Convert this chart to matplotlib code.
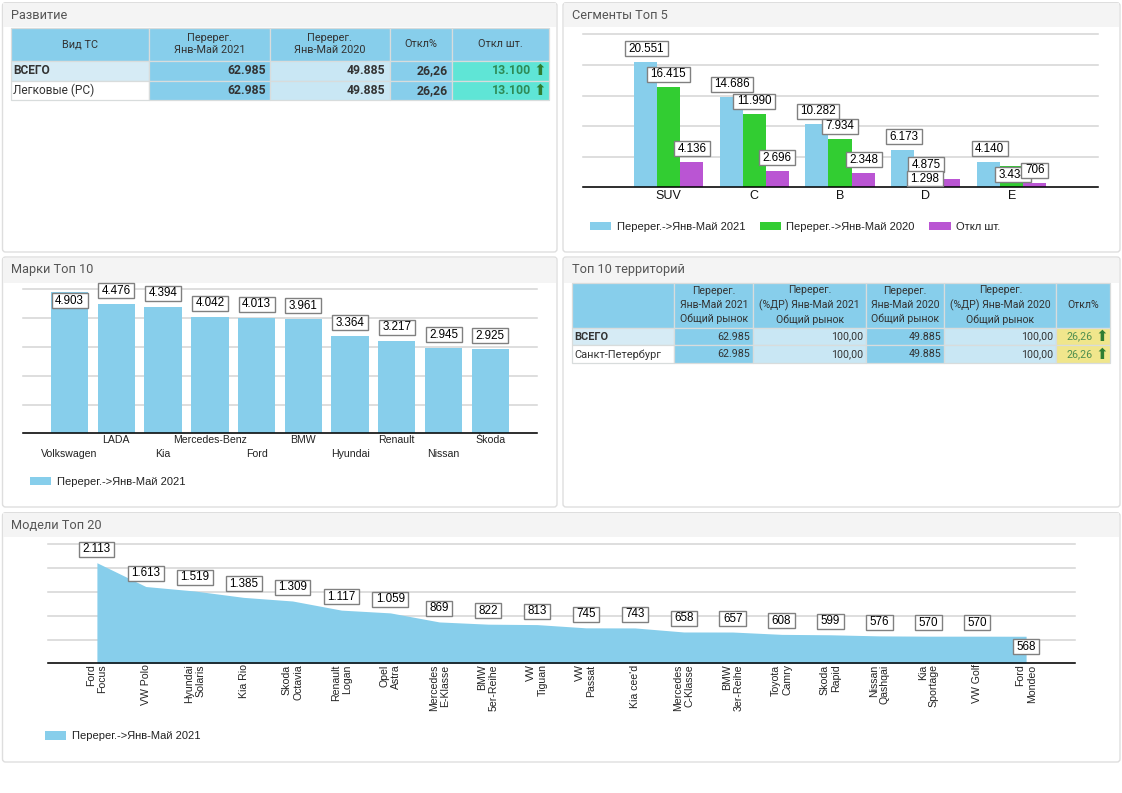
import matplotlib

matplotlib.use("Agg")
import matplotlib.pyplot as plt
from matplotlib.patches import FancyBboxPatch, Rectangle
from matplotlib.path import Path

W, H = 1122, 793
SKY = "#87ceeb"
LIME = "#32cd32"
ORCHID = "#ba55d3"
PALE = "#c9e7f4"
PALE_TOTAL = "#d6ebf5"
TURQUOISE = "#5fe5d6"
KHAKI = "#f0e68c"
GRID = "#d4d4d4"
LEGEND_2021 = "Перерег.->Янв-Май 2021"
LEGEND_2020 = "Перерег.->Янв-Май 2020"
LEGEND_DIFF = "Откл шт."

# development table
dev_columns = ["Вид ТС", "Перерег.\nЯнв-Май 2021", "Перерег.\nЯнв-Май 2020", "Откл%", "Откл шт."]
dev_rows = ["ВСЕГО", "Легковые (PC)"]
dev_2021 = [62985, 62985]
dev_2020 = [49885, 49885]
dev_pct = ["26,26", "26,26"]
dev_diff = [13100, 13100]

# segments
segments = ["SUV", "C", "B", "D", "E"]
seg_2021 = [20551, 14686, 10282, 6173, 4140]
seg_2020 = [16415, 11990, 7934, 4875, 3434]
seg_diff = [4136, 2696, 2348, 1298, 706]

# brands
brands = ["Volkswagen", "LADA", "Kia", "Mercedes-Benz", "Ford", "BMW", "Hyundai", "Renault", "Nissan", "Škoda"]
brand_values = [4903, 4476, 4394, 4042, 4013, 3961, 3364, 3217, 2945, 2925]

# territories table
terr_columns = [
    "",
    "Перерег.\nЯнв-Май 2021\nОбщий рынок",
    "Перерег.\n(%ДР) Янв-Май 2021\nОбщий рынок",
    "Перерег.\nЯнв-Май 2020\nОбщий рынок",
    "Перерег.\n(%ДР) Янв-Май 2020\nОбщий рынок",
    "Откл%",
]
terr_rows = ["ВСЕГО", "Санкт-Петербург"]
terr_2021 = [62985, 62985]
terr_share_2021 = ["100,00", "100,00"]
terr_2020 = [49885, 49885]
terr_share_2020 = ["100,00", "100,00"]
terr_pct = ["26,26", "26,26"]

# models
models = [
    "Ford\nFocus", "VW Polo", "Hyundai\nSolaris", "Kia Rio", "Skoda\nOctavia",
    "Renault\nLogan", "Opel\nAstra", "Mercedes\nE-Klasse", "BMW\n5er-Reihe", "VW\nTiguan",
    "VW\nPassat", "Kia cee'd", "Mercedes\nC-Klasse", "BMW\n3er-Reihe", "Toyota\nCamry",
    "Skoda\nRapid", "Nissan\nQashqai", "Kia\nSportage", "VW Golf", "Ford\nMondeo",
]
model_values = [2113, 1613, 1519, 1385, 1309, 1117, 1059, 869, 822, 813,
                745, 743, 658, 657, 608, 599, 576, 570, 570, 568]

plt.rcParams["font.family"] = ["Liberation Sans", "DejaVu Sans"]
ROBOTO = ["Roboto", "DejaVu Sans"]

fig = plt.figure(figsize=(W / 100, H / 100), dpi=100, facecolor="white")
bg = fig.add_axes([0, 0, 1, 1])
bg.set_xlim(0, W)
bg.set_ylim(H, 0)
bg.axis("off")


def fmt(value):
    return f"{value:,}".replace(",", ".")


def label_box(x0, y0, width, height, mutation_size):
    pad_x, pad_y = 3.5, 1.5
    left, right = x0 - pad_x, x0 + width + pad_x
    low, high = y0 - pad_y, y0 + height + pad_y
    return Path([(left, low), (right, low), (right, high), (left, high), (left, low)], closed=True)


def panel(left, top, right, bottom, header_bottom, title, title_x):
    bg.add_patch(FancyBboxPatch((left, top), right - left, bottom - top, boxstyle="round,pad=0,rounding_size=3",
                                fc="white", ec="#dedede", lw=1))
    bg.add_patch(Rectangle((left + 0.7, top + 0.7), right - left - 1.4, header_bottom - top, fc="#f4f4f4", ec="none"))
    bg.text(title_x, (top + header_bottom) / 2 + 0.5, title, family=ROBOTO, fontsize=9.2, color="#555555",
            va="center", ha="left")


def cell(left, top, right, bottom, color):
    bg.add_patch(Rectangle((left, top), right - left, bottom - top, fc=color, ec="#d8dcdc", lw=0.9))


def px_axes(left, top, right, bottom, xmax, ymax, ystep):
    ax = fig.add_axes([left / W, 1 - bottom / H, (right - left) / W, (bottom - top) / H])
    ax.patch.set_alpha(0)
    ax.set_xlim(0, xmax)
    ax.set_ylim(0, ymax)
    ax.set_yticks(range(0, ymax + 1, ystep))
    ax.tick_params(axis="y", length=0, labelleft=False)
    ax.tick_params(axis="x", length=0)
    ax.grid(axis="y", color=GRID, lw=1.1)
    ax.set_axisbelow(True)
    for line in ax.get_ygridlines():
        line.set_clip_on(False)
    for side in ("top", "left", "right"):
        ax.spines[side].set_visible(False)
    ax.spines["bottom"].set_linewidth(1.1)
    ax.spines["bottom"].set_color("black")
    return ax


def value_label(ax, x, y, value, dx=0, dy=13):
    # center_baseline sits about 2px low, hence the lift
    ax.annotate(fmt(value), xy=(x, y), xytext=(dx, dy + 2), textcoords="offset pixels", ha="center",
                va="center_baseline", fontsize=8.4, color="black", zorder=5, annotation_clip=False,
                bbox=dict(boxstyle=label_box, fc="white", ec="#808080", lw=1))


def legend(ax, x, y, ncol=1):
    ax.legend(loc="upper left", bbox_to_anchor=(x, y), bbox_transform=bg.transData, ncol=ncol, frameon=False,
              fontsize=8, handlelength=1.93, handleheight=0.8, handletextpad=0.48, columnspacing=1.3,
              borderpad=0, borderaxespad=0, labelcolor="#222222")


def draw_arrow(x, y, color="#2e7d32"):
    bg.text(x, y, "⬆", family=["DejaVu Sans"], fontsize=11, color=color, ha="center", va="center")


# panels
panel(2.5, 2.7, 557, 252, 26.7, "Развитие", 11.5)
panel(563, 2.7, 1120, 252, 26.7, "Сегменты Топ 5", 572)
panel(2.5, 257, 557, 507, 282, "Марки Топ 10", 11.5)
panel(563, 257, 1120, 507, 282, "Топ 10 территорий", 572)
panel(2.5, 512.7, 1120, 762, 536.7, "Модели Топ 20", 11.5)

# development table
dev_x = [10.7, 149.3, 269.6, 389.6, 451.8, 549.3]
dev_y = [27.7, 60.6, 80.5, 100.3]
for i, name in enumerate(dev_columns):
    cell(dev_x[i], dev_y[0], dev_x[i + 1], dev_y[1], SKY)
    bg.text((dev_x[i] + dev_x[i + 1]) / 2, (dev_y[0] + dev_y[1]) / 2, name, family=ROBOTO, fontsize=7.8,
            color="#333333", ha="center", va="center", linespacing=1.3)
for r, name in enumerate(dev_rows):
    top, bottom = dev_y[r + 1], dev_y[r + 2]
    mid = (top + bottom) / 2 + 0.3
    for i, color in enumerate([PALE_TOTAL if r == 0 else "white", SKY, PALE, SKY, TURQUOISE]):
        cell(dev_x[i], top, dev_x[i + 1], bottom, color)
    bg.text(13, mid, name, family=ROBOTO, fontsize=8.6, color="#333333", va="center",
            fontweight="bold" if r == 0 else "normal")
    texts = [fmt(dev_2021[r]), fmt(dev_2020[r]), dev_pct[r]]
    for i, text in enumerate(texts):
        bg.text(dev_x[i + 2] - 4, mid, text, family=ROBOTO, fontsize=8.8, fontweight="bold", color="#333333",
                ha="right", va="center")
    bg.text(531, mid, fmt(dev_diff[r]), family=ROBOTO, fontsize=8.8, fontweight="bold", color="#2e8b57",
            ha="right", va="center")
    draw_arrow(540, mid)

# territories table
terr_x = [572, 674.4, 753.3, 865.9, 944.4, 1056.3, 1110.3]
terr_y = [282.7, 327.5, 345.3, 363]
for i, name in enumerate(terr_columns):
    cell(terr_x[i], terr_y[0], terr_x[i + 1], terr_y[1], SKY)
    bg.text((terr_x[i] + terr_x[i + 1]) / 2, (terr_y[0] + terr_y[1]) / 2, name, family=ROBOTO, fontsize=7.6,
            color="#333333", ha="center", va="center", linespacing=1.45)
for r, name in enumerate(terr_rows):
    top, bottom = terr_y[r + 1], terr_y[r + 2]
    mid = (top + bottom) / 2 + 0.3
    for i, color in enumerate([PALE_TOTAL if r == 0 else "white", SKY, PALE, SKY, PALE, KHAKI]):
        cell(terr_x[i], top, terr_x[i + 1], bottom, color)
    bg.text(574, mid, name, family=ROBOTO, fontsize=7.9, color="#333333", va="center",
            fontweight="bold" if r == 0 else "normal")
    texts = [fmt(terr_2021[r]), terr_share_2021[r], fmt(terr_2020[r]), terr_share_2020[r]]
    for i, text in enumerate(texts):
        bg.text(terr_x[i + 2] - 3, mid, text, family=ROBOTO, fontsize=7.7, color="#333333", ha="right", va="center")
    bg.text(1093, mid, terr_pct[r], family=ROBOTO, fontsize=7.7, color="#4f8f4f", ha="right", va="center")
    draw_arrow(1101.5, mid)

# segments chart
ax = px_axes(582.5, 34.3, 1097.5, 187.3, 6, 25000, 5000)
bar_w = 0.268
seg_x = [i + 1 for i in range(len(segments))]
ax.bar([x - bar_w for x in seg_x], seg_2021, bar_w, color=SKY, label=LEGEND_2021)
ax.bar(seg_x, seg_2020, bar_w, color=LIME, label=LEGEND_2020)
ax.bar([x + bar_w for x in seg_x], seg_diff, bar_w, color=ORCHID, label=LEGEND_DIFF)
ax.set_xticks(seg_x, segments, fontsize=9, color="#111111")
ax.tick_params(axis="x", pad=2)
# labels in D and E are pushed around by the overlap, the rest sit above their bar
mid_offsets = [(0, 12), (0, 12), (0, 12), (0, -8), (1, -9)]
diff_offsets = [(1, 12.5), (0, 12.5), (1, 12.5), (-24, 0), (0, 12)]
for i, x in enumerate(seg_x):
    value_label(ax, x - bar_w, seg_2021[i], seg_2021[i], dx=1, dy=12.5)
    value_label(ax, x, seg_2020[i], seg_2020[i], *mid_offsets[i])
    value_label(ax, x + bar_w, seg_diff[i], seg_diff[i], *diff_offsets[i])
legend(ax, 590, 221.5, ncol=3)

# brands chart
ax = px_axes(22.9, 289.3, 537, 433.3, 11, 5000, 1000)
brand_x = [i + 1 for i in range(len(brands))]
ax.bar(brand_x, brand_values, 0.8, color=SKY, label=LEGEND_2021)
ax.set_xticks(brand_x, brands, fontsize=7.6, color="#222222")
for i, tick in enumerate(ax.xaxis.get_major_ticks()):
    tick.set_pad(11 if i % 2 == 0 else 1)
for i, x in enumerate(brand_x):
    value_label(ax, x, brand_values[i], brand_values[i], dy=-9 if i == 0 else 13)
legend(ax, 30, 476.5)

# models chart
ax = px_axes(48, 544.3, 1075, 663.3, 21, 2500, 500)
model_x = [i + 1 for i in range(len(models))]
ax.fill_between(model_x, model_values, color=SKY, lw=0, label=LEGEND_2021)
ax.set_xticks(model_x, models, fontsize=7.6, color="#222222", rotation=90, ha="center", va="top",
              multialignment="right", linespacing=1.15)
ax.tick_params(axis="x", pad=0.8)
for i, x in enumerate(model_x):
    value_label(ax, x, model_values[i], model_values[i], dy=-11 if i == len(models) - 1 else 13)
legend(ax, 45, 731)

fig.savefig("out.png", dpi=100)
